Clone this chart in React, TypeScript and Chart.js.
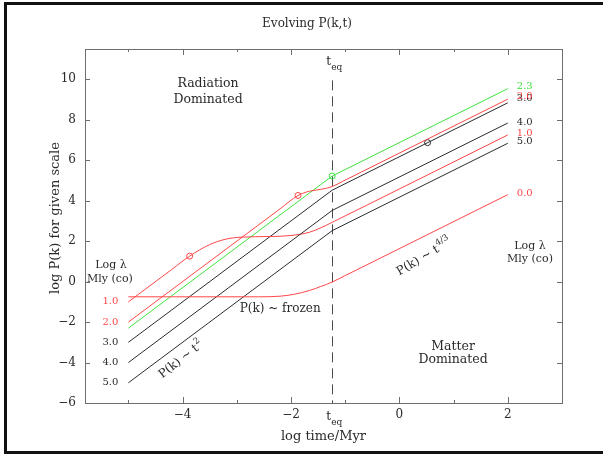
import { useEffect, useRef } from "react";
import { Chart, registerables } from "chart.js";

Chart.register(...registerables);

// log time (Myr) of matter–radiation equality
const T_EQ = -1.24;

const X_MIN = -5.8;
const X_MAX = 3.0;
const Y_MIN = -6;
const Y_MAX = 11.5;

const xTickValues = [-4, -2, 0, 2];
const xMinorTicks = [-5, -3, -1, 1];
const yTickValues = [-6, -4, -2, 0, 2, 4, 6, 8, 10];

// Scales still outside the horizon at equality: t^2, then t^(4/3)
const scale50: [number, number][] = [[-5, -5], [T_EQ, 2.52], [2, 6.84]];
const scale40: [number, number][] = [[-5, -4], [T_EQ, 3.52], [2, 7.84]];
const scale30: [number, number][] = [[-5, -3], [T_EQ, 4.52], [2, 8.84]];
const scale23: [number, number][] = [[-5, -2.3], [T_EQ, 5.22], [2, 9.54]];

// Scales entering the horizon in the radiation era (frozen until equality)
const scale20: [number, number][] = [
  [-5, -2], [-2.2, 3.6], [-1.87, 4.26], [-1.66, 4.47], [-1.45, 4.56],
  [-1.24, 4.7], [-1.05, 4.95], [-0.7, 5.42], [2, 9.02],
];
const scale10: [number, number][] = [
  [-5, -1], [-4.2, 0.6], [-3.87, 1.26], [-3.5, 1.83], [-3.2, 2.1], [-2.9, 2.2],
  [-2.4, 2.23], [-2.0, 2.28], [-1.66, 2.44], [-1.45, 2.66], [-1.24, 2.93],
  [-1.0, 3.25], [-0.6, 3.78], [2, 7.25],
];
const scale00: [number, number][] = [
  [-5, -0.75], [-2.6, -0.75], [-2.2, -0.72], [-1.95, -0.63], [-1.66, -0.44],
  [-1.45, -0.24], [-1.24, -0.02], [-1.0, 0.3], [-0.6, 0.83], [2, 4.3],
];

// Horizon-crossing markers
const redCrossings: [number, number][] = [[-3.87, 1.26], [-1.87, 4.26]];
const greenCrossings: [number, number][] = [[T_EQ, 5.22]];
const blackCrossings: [number, number][] = [[0.52, 6.87]];

const RED = "#ff4646";
const GREEN = "#3fe23f";
const BLACK = "#2b2b2b";
const TEXT = "#2a2a2a";
const AXIS = "#6e6e6e";
const SERIF = '"DejaVu Serif", "Liberation Serif", serif';

type Curve = {
  name: string;
  points: [number, number][];
  color: string;
  smooth: boolean;
  leftLabel: boolean;
  rightNudge: number;
};

const curves: Curve[] = [
  { name: "0.0", points: scale00, color: RED, smooth: true, leftLabel: false, rightNudge: -1 },
  { name: "5.0", points: scale50, color: BLACK, smooth: false, leftLabel: true, rightNudge: -2 },
  { name: "4.0", points: scale40, color: BLACK, smooth: false, leftLabel: true, rightNudge: -1 },
  { name: "1.0", points: scale10, color: RED, smooth: true, leftLabel: true, rightNudge: -2 },
  { name: "3.0", points: scale30, color: BLACK, smooth: false, leftLabel: true, rightNudge: -4 },
  { name: "2.0", points: scale20, color: RED, smooth: true, leftLabel: true, rightNudge: -3 },
  { name: "2.3", points: scale23, color: GREEN, smooth: false, leftLabel: false, rightNudge: -2 },
];

const fmt = (v: number) => (v < 0 ? "\u2212" + Math.abs(v) : String(v));

function text(
  ctx: CanvasRenderingContext2D,
  s: string,
  x: number,
  y: number,
  size: number,
  color = TEXT,
  align: CanvasTextAlign = "center"
) {
  ctx.font = `${size}px ${SERIF}`;
  ctx.fillStyle = color;
  ctx.textAlign = align;
  ctx.textBaseline = "middle";
  ctx.fillText(s, x, y);
}

// "t" with a lowered "eq"
function tEqLabel(ctx: CanvasRenderingContext2D, x: number, y: number) {
  ctx.fillStyle = TEXT;
  ctx.textBaseline = "middle";
  ctx.textAlign = "left";
  ctx.font = `12px ${SERIF}`;
  ctx.fillText("t", x - 6, y);
  ctx.font = `9px ${SERIF}`;
  ctx.fillText("eq", x - 1, y + 6);
}

// rotated "P(k) ~ t^n"
function powerLaw(
  ctx: CanvasRenderingContext2D,
  cx: number,
  cy: number,
  angleDeg: number,
  base: string,
  sup: string
) {
  ctx.save();
  ctx.translate(cx, cy);
  ctx.rotate((angleDeg * Math.PI) / 180);
  ctx.fillStyle = TEXT;
  ctx.textBaseline = "middle";
  ctx.textAlign = "left";
  ctx.font = `12px ${SERIF}`;
  const w1 = ctx.measureText(base).width;
  ctx.font = `8.5px ${SERIF}`;
  const w2 = ctx.measureText(sup).width;
  const x0 = -(w1 + w2) / 2;
  ctx.font = `12px ${SERIF}`;
  ctx.fillText(base, x0, 0);
  ctx.font = `8.5px ${SERIF}`;
  ctx.fillText(sup, x0 + w1 + 0.5, -5);
  ctx.restore();
}

const decorations = {
  id: "decorations",
  beforeDatasetsDraw(chart: Chart) {
    const { ctx, chartArea: a } = chart;
    const xs = chart.scales.x;
    const ys = chart.scales.y;
    ctx.save();
    // equality marker
    const xe = Math.round(xs.getPixelForValue(T_EQ)) + 0.5;
    ctx.strokeStyle = "#4a4a4a";
    ctx.lineWidth = 1;
    ctx.setLineDash([10, 6]);
    ctx.beginPath();
    ctx.moveTo(xe, ys.getPixelForValue(9.95));
    ctx.lineTo(xe, a.bottom);
    ctx.stroke();
    ctx.setLineDash([]);

    // frame with inward ticks on all sides
    ctx.strokeStyle = AXIS;
    ctx.strokeRect(a.left + 0.5, a.top + 0.5, a.right - a.left, a.bottom - a.top);
    ctx.beginPath();
    const xTick = (v: number, len: number) => {
      const p = Math.round(xs.getPixelForValue(v)) + 0.5;
      ctx.moveTo(p, a.bottom);
      ctx.lineTo(p, a.bottom - len);
      ctx.moveTo(p, a.top);
      ctx.lineTo(p, a.top + len);
    };
    xTickValues.forEach((v) => xTick(v, 6));
    xMinorTicks.forEach((v) => xTick(v, 3));
    yTickValues.forEach((v) => {
      const p = Math.round(ys.getPixelForValue(v)) + 0.5;
      ctx.moveTo(a.left, p);
      ctx.lineTo(a.left + 5, p);
      ctx.moveTo(a.right, p);
      ctx.lineTo(a.right - 5, p);
    });
    ctx.stroke();
    ctx.restore();
  },
  afterDraw(chart: Chart) {
    const { ctx, chartArea: a } = chart;
    const xs = chart.scales.x;
    const ys = chart.scales.y;
    const X = (v: number) => xs.getPixelForValue(v);
    const Y = (v: number) => ys.getPixelForValue(v);
    ctx.save();

    text(ctx, "Evolving P(k,t)", 307, 24, 12);
    text(ctx, "log time/Myr", (a.left + a.right) / 2, 437, 13);

    ctx.save();
    ctx.translate(56, (a.top + a.bottom) / 2 - 8);
    ctx.rotate(-Math.PI / 2);
    text(ctx, "log P(k) for given scale", 0, 0, 13);
    ctx.restore();

    tEqLabel(ctx, X(T_EQ), Y(10.86));
    tEqLabel(ctx, X(T_EQ), a.bottom + 14);

    text(ctx, "Radiation", X(-3.53), Y(9.77), 12.5);
    text(ctx, "Dominated", X(-3.53), Y(8.98), 12.5);
    text(ctx, "Matter", X(0.99), Y(-3.23), 12.5);
    text(ctx, "Dominated", X(0.99), Y(-3.87), 12.5);
    text(ctx, "P(k) ~ frozen", X(-2.2), Y(-1.35), 12);

    text(ctx, "Log \u03bb", X(-5.32), Y(0.82), 11);
    text(ctx, "Mly (co)", X(-5.34), Y(0.13), 11);
    text(ctx, "Log \u03bb", X(2.41), Y(1.76), 11);
    text(ctx, "Mly (co)", X(2.41), Y(1.11), 11);

    powerLaw(ctx, X(-4.03), Y(-3.87), -38, "P(k) ~ t", "2");
    powerLaw(ctx, X(0.45), Y(1.21), -31, "P(k) ~ t", "4/3");

    // scale labels at both ends of each curve
    curves.forEach((c) => {
      const first = c.points[0];
      const last = c.points[c.points.length - 1];
      if (c.leftLabel) {
        text(ctx, c.name, X(first[0]) - 10, Y(first[1]), 10, c.color, "right");
      }
      text(ctx, c.name, X(last[0]) + 9, Y(last[1]) + c.rightNudge, 10, c.color, "left");
    });

    ctx.restore();
  },
};

export default function App() {
  const canvasRef = useRef<HTMLCanvasElement>(null);

  useEffect(() => {
    const canvas = canvasRef.current;
    if (!canvas) return;

    const lineSets = curves.map((c) => ({
      label: c.name,
      data: c.points.map(([x, y]) => ({ x, y })),
      showLine: true,
      borderColor: c.color,
      borderWidth: 1,
      pointRadius: 0,
      cubicInterpolationMode: c.smooth ? ("monotone" as const) : ("default" as const),
      tension: 0,
    }));

    const markerSet = (pts: [number, number][], color: string) => ({
      label: "crossing",
      data: pts.map(([x, y]) => ({ x, y })),
      showLine: false,
      pointRadius: 3,
      pointBorderWidth: 1,
      pointBorderColor: color,
      pointBackgroundColor: "rgba(0,0,0,0)",
    });

    const chart = new Chart(canvas, {
      type: "scatter",
      data: {
        datasets: [
          ...lineSets,
          markerSet(redCrossings, RED),
          markerSet(greenCrossings, GREEN),
          markerSet(blackCrossings, BLACK),
        ],
      },
      options: {
        responsive: false,
        animation: false,
        devicePixelRatio: 1,
        events: [],
        layout: { padding: { top: 49, right: 41, left: 0, bottom: 0 } },
        plugins: {
          legend: { display: false },
          tooltip: { enabled: false },
          title: { display: false },
        },
        scales: {
          x: {
            type: "linear",
            position: "bottom",
            min: X_MIN,
            max: X_MAX,
            grid: { display: false, drawTicks: false },
            border: { display: false },
            afterBuildTicks: (s: any) => {
              s.ticks = xTickValues.map((value) => ({ value }));
            },
            afterFit: (s: any) => {
              s.height = 51;
            },
            ticks: {
              autoSkip: false,
              maxRotation: 0,
              padding: 5,
              color: TEXT,
              font: { family: SERIF, size: 12 },
              callback: (v: any) => fmt(Number(v)),
            },
          },
          y: {
            type: "linear",
            position: "left",
            min: Y_MIN,
            max: Y_MAX,
            grid: { display: false, drawTicks: false },
            border: { display: false },
            afterBuildTicks: (s: any) => {
              s.ticks = yTickValues.map((value) => ({ value }));
            },
            afterFit: (s: any) => {
              s.width = 85;
            },
            ticks: {
              autoSkip: false,
              padding: 9,
              color: TEXT,
              font: { family: SERIF, size: 12 },
              callback: (v: any) => fmt(Number(v)),
            },
          },
        },
      },
      plugins: [decorations],
    });

    return () => chart.destroy();
  }, []);

  return (
    <div style={{ position: "fixed", left: 0, top: 0, width: 603, height: 454, background: "#fff" }}>
      <div
        style={{
          position: "absolute",
          left: 4,
          top: 2,
          right: 0,
          bottom: 0,
          borderLeft: "3px solid #111",
          borderTop: "3px solid #111",
          borderBottom: "3px solid #111",
        }}
      />
      <canvas
        ref={canvasRef}
        width={603}
        height={454}
        style={{ position: "absolute", left: 0, top: 0, width: 603, height: 454 }}
      />
    </div>
  );
}
